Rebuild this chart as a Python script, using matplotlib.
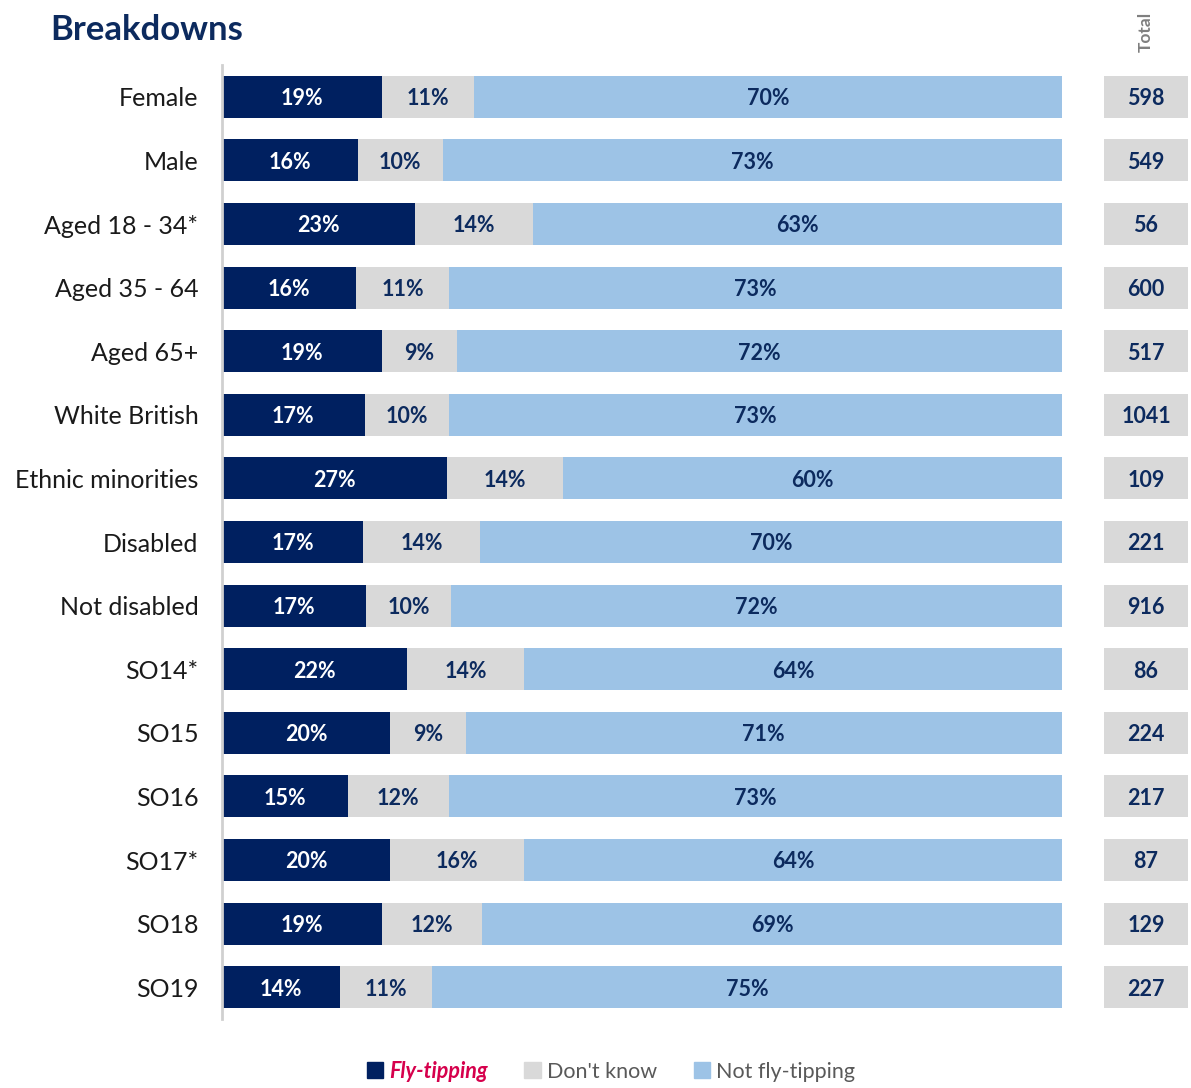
import numpy as np
import matplotlib
matplotlib.use("Agg")
import matplotlib.pyplot as plt
from matplotlib.patches import Patch

plt.rcParams["font.family"] = ["Lato", "DejaVu Sans"]

categories = ["Female", "Male", "Aged 18 - 34*", "Aged 35 - 64", "Aged 65+",
              "White British", "Ethnic minorities", "Disabled", "Not disabled",
              "SO14*", "SO15", "SO16", "SO17*", "SO18", "SO19"]
fly_tipping = [19, 16, 23, 16, 19, 17, 27, 17, 17, 22, 20, 15, 20, 19, 14]
dont_know = [11, 10, 14, 11, 9, 10, 14, 14, 10, 14, 9, 12, 16, 12, 11]
not_fly_tipping = [70, 73, 63, 73, 72, 73, 60, 70, 72, 64, 71, 73, 64, 69, 75]
totals = [598, 549, 56, 600, 517, 1041, 109, 221, 916, 86, 224, 217, 87, 129, 227]
series_names = ["Fly-tipping", "Don't know", "Not fly-tipping"]

NAVY = "#002060"
GREY = "#d9d9d9"
LIGHT = "#9dc3e6"
TEXT_NAVY = "#0c2a5e"

W, H = 1191, 1088
fig = plt.figure(figsize=(W / 100, H / 100), dpi=100)

ax = fig.add_axes([222 / W, 1 - 1019 / H, 840 / W, (1019 - 65) / H])
vals = np.array([fly_tipping, dont_know, not_fly_tipping], dtype=float)
shares = vals / vals.sum(axis=0) * 100
y = np.arange(len(categories))
left = np.zeros(len(categories))
colors = [NAVY, GREY, LIGHT]
txt_colors = ["white", TEXT_NAVY, TEXT_NAVY]
dy = 0.03  # nudge labels to sit like the original
for k in range(3):
    ax.barh(y, shares[k], left=left, height=0.66, color=colors[k], linewidth=0)
    for i in range(len(categories)):
        ax.text(left[i] + shares[k][i] / 2, y[i] + dy, f"{int(vals[k][i])}%",
                ha="center", va="center", color=txt_colors[k],
                fontsize=15.5, fontweight="bold")
    left += shares[k]

ax.set_xlim(0, 100)
ax.set_ylim(len(categories) - 0.5, -0.5)
ax.set_yticks(y)
ax.set_yticklabels(categories, fontsize=18, color="#1a1a1a")
ax.tick_params(axis="y", length=0, pad=17)
ax.set_xticks([])
for s in ["top", "right", "bottom"]:
    ax.spines[s].set_visible(False)
ax.spines["left"].set_color("#d0d0d0")
ax.spines["left"].set_linewidth(2)

# total column
axt = fig.add_axes([1104 / W, 1 - 1019 / H, 84 / W, (1019 - 65) / H])
axt.barh(y, [1] * len(y), height=0.66, color=GREY, linewidth=0)
for i, t in enumerate(totals):
    axt.text(0.5, y[i] + dy, str(t), ha="center", va="center", color=TEXT_NAVY,
             fontsize=15.5, fontweight="bold")
axt.set_xlim(0, 1)
axt.set_ylim(len(categories) - 0.5, -0.5)
axt.axis("off")

fig.text(1146 / W, 1 - 32 / H, "Total", rotation=90, ha="center", va="center",
         color="#7f7f7f", fontsize=12.5, fontweight="bold")
fig.text(50 / W, 1 - 30 / H, "Breakdowns", ha="left", va="center",
         color="#0c2a5e", fontsize=25, fontweight="bold")

handles = [Patch(color=c) for c in colors]
leg = fig.legend(handles, series_names, loc="center", ncol=3, frameon=False,
                 bbox_to_anchor=(611 / W, 1 - 1071 / H), fontsize=15.5,
                 handlelength=0.75, handleheight=0.75, handletextpad=0.3,
                 columnspacing=1.7)
for i, t in enumerate(leg.get_texts()):
    if i == 0:
        t.set_color("#d6004c")
        t.set_fontstyle("italic")
        t.set_fontweight("bold")
    else:
        t.set_color("#595959")

fig.savefig("out.png", dpi=100)
